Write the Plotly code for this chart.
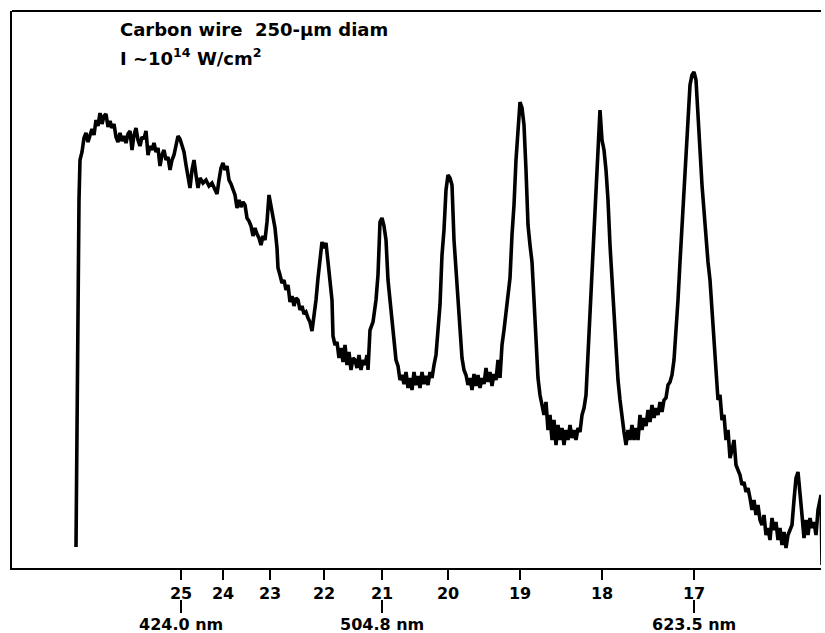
import plotly.graph_objects as go

# Recorded spectrum: scan position along the record vs detector signal (arb. units)
scan_pos = [
    64, 65, 66, 67, 68, 70, 72, 74, 76, 78, 80, 82, 84, 86, 88, 90, 92, 94, 96, 98,
    100, 102, 104, 106, 108, 110, 112, 114, 116, 118, 120, 122, 124, 126, 128, 130, 132, 134, 136, 138,
    140, 142, 144, 146, 148, 150, 152, 154, 156, 158, 160, 162, 164, 166, 168, 170, 172, 174, 176, 178,
    180, 182, 184, 186, 188, 191, 194, 197, 200, 203, 205, 207, 209, 211, 213, 215, 217, 219, 221, 223,
    225, 227, 229, 231, 233, 235, 237, 239, 241, 243, 245, 247, 249, 251, 253, 255, 257, 259, 261, 263,
    265, 266, 268, 270, 272, 274, 276, 278, 280, 282, 284, 286, 288, 290, 292, 294, 296, 298, 300, 302,
    304, 306, 308, 310, 312, 314, 316, 318, 320, 321, 323, 325, 327, 329, 331, 333, 335, 337, 339, 341,
    343, 345, 347, 349, 351, 353, 355, 356, 358, 361, 364, 366, 368, 370, 372, 374, 376, 378, 380, 382,
    384, 386, 388, 390, 392, 394, 396, 398, 400, 402, 404, 406, 408, 410, 412, 414, 416, 418, 420, 422,
    424, 426, 428, 430, 432, 434, 436, 438, 440, 442, 444, 446, 448, 450, 452, 454, 456, 458, 460, 462,
    464, 466, 468, 470, 472, 474, 476, 478, 480, 482, 484, 486, 488, 490, 492, 494, 496, 498, 500, 502,
    504, 506, 508, 510, 512, 514, 516, 518, 520, 522, 524, 526, 528, 530, 532, 534, 536, 538, 540, 542,
    544, 546, 548, 550, 552, 554, 556, 558, 560, 562, 564, 566, 568, 570, 572, 574, 576, 578, 580, 582,
    584, 586, 588, 590, 592, 594, 596, 598, 600, 602, 604, 606, 608, 610, 612, 614, 616, 618, 620, 622,
    624, 626, 628, 630, 632, 634, 636, 638, 640, 642, 644, 646, 648, 650, 652, 654, 656, 658, 660, 662,
    664, 666, 668, 670, 672, 674, 676, 678, 680, 682, 684, 686, 688, 690, 692, 694, 696, 698, 700, 702,
    704, 706, 708, 710, 712, 714, 716, 718, 720, 722, 724, 726, 728, 730, 732, 734, 736, 738, 740, 742,
    744, 746, 748, 750, 752, 754, 756, 758, 760, 762, 764, 766, 768, 770, 772, 774, 776, 778, 780, 782,
    784, 786, 788, 790, 792, 794, 796, 798, 800, 802, 804, 806, 808, 809, 810,
]
signal = [
    21, 148, 268, 368, 408, 416, 430, 435, 426, 432, 439, 433, 448, 442, 455, 444, 452, 454, 441, 447,
    440, 444, 431, 426, 435, 427, 432, 425, 434, 437, 418, 433, 440, 428, 422, 431, 429, 437, 413, 422,
    418, 425, 416, 420, 402, 413, 418, 408, 411, 398, 408, 413, 423, 432, 429, 423, 416, 403, 390, 380,
    398, 408, 393, 380, 390, 385, 388, 382, 385, 378, 374, 388, 400, 405, 398, 402, 388, 384, 378, 373,
    360, 368, 361, 366, 363, 350, 347, 342, 332, 340, 334, 330, 323, 332, 328, 346, 373, 363, 353, 340,
    320, 300, 293, 285, 288, 278, 283, 266, 272, 262, 270, 268, 258, 262, 254, 256, 250, 246, 237, 250,
    268, 290, 310, 326, 320, 325, 306, 290, 268, 232, 223, 226, 210, 220, 206, 223, 203, 216, 198, 210,
    208, 200, 213, 198, 208, 203, 213, 198, 238, 246, 268, 293, 346, 350, 342, 328, 288, 268, 246, 223,
    208, 202, 188, 193, 184, 196, 180, 190, 178, 196, 183, 192, 180, 196, 184, 192, 183, 196, 190, 203,
    213, 238, 263, 313, 338, 378, 393, 390, 383, 328, 298, 268, 238, 210, 198, 193, 183, 190, 178, 194,
    182, 193, 180, 190, 184, 200, 186, 196, 182, 194, 188, 208, 190, 223, 238, 258, 273, 290, 333, 363,
    408, 438, 466, 460, 443, 398, 343, 323, 306, 268, 233, 190, 173, 163, 153, 166, 138, 153, 128, 148,
    123, 143, 128, 140, 123, 138, 128, 143, 130, 138, 128, 140, 136, 153, 160, 173, 216, 248, 298, 338,
    388, 428, 458, 428, 418, 398, 368, 323, 288, 253, 223, 188, 168, 148, 136, 123, 138, 128, 143, 128,
    140, 128, 153, 138, 150, 142, 158, 146, 163, 150, 160, 153, 166, 156, 168, 170, 183, 186, 193, 208,
    233, 268, 306, 343, 383, 418, 458, 483, 493, 496, 488, 458, 418, 383, 353, 328, 306, 288, 258, 223,
    193, 168, 173, 148, 153, 128, 138, 110, 118, 128, 103, 98, 93, 83, 86, 76, 80, 70, 58, 68,
    53, 63, 48, 43, 53, 33, 40, 28, 50, 38, 46, 28, 40, 23, 36, 20, 33, 38, 43, 68,
    90, 96, 78, 53, 30, 48, 33, 50, 40, 46, 33, 58, 68, 73, 3,
]

# Harmonic orders of the 10.6-um drive laser and where they fall on the scan
orders = ["25", "24", "23", "22", "21", "20", "19", "18", "17"]
order_pos = [169, 211, 258, 312, 370, 436, 508, 590, 682]

# Wavelength calibration marks
cal_orders = ["25", "21", "17"]
cal_labels = ["424.0 nm", "504.8 nm", "623.5 nm"]

FONT = "DejaVu Sans"
TXT = dict(family=FONT, size=16, color="black", weight="bold")

fig = go.Figure()
fig.add_trace(go.Scatter(
    x=scan_pos, y=signal, mode="lines",
    line=dict(color="black", width=3.6),
    hoverinfo="skip", showlegend=False,
))

# Frame top edge
shapes = [dict(type="line", xref="paper", yref="paper", x0=0, x1=1, y0=1, y1=1,
               line=dict(color="black", width=2))]
annotations = []
# Calibration connectors and wavelength labels under selected orders
for o, lab in zip(cal_orders, cal_labels):
    xp = order_pos[orders.index(o)]
    shapes.append(dict(type="line", xref="x", yref="paper", x0=xp, x1=xp,
                       y0=-0.0575, y1=-0.081, line=dict(color="black", width=2)))
    annotations.append(dict(x=xp, y=-0.102, xref="x", yref="paper", text=lab,
                            showarrow=False, xanchor="center", yanchor="middle",
                            font=TXT))

annotations.append(dict(x=0.1307, y=0.966, xref="paper", yref="paper",
                        text="Carbon wire  250-μm diam", showarrow=False,
                        xanchor="left", yanchor="middle",
                        font=dict(TXT, size=18)))
annotations.append(dict(x=0.1307, y=0.918, xref="paper", yref="paper",
                        text="I ~10<sup>14</sup> W/cm<sup>2</sup>", showarrow=False,
                        xanchor="left", yanchor="middle",
                        font=dict(TXT, size=18)))

fig.update_layout(
    width=825, height=633,
    margin=dict(l=12, r=4, t=11, b=65),
    paper_bgcolor="white", plot_bgcolor="white",
    shapes=shapes, annotations=annotations,
    xaxis=dict(range=[0, 809], showgrid=False, zeroline=False,
               showline=True, linecolor="black", linewidth=2, mirror=False,
               tickmode="array", tickvals=order_pos, ticktext=orders,
               ticks="outside", ticklen=10, tickwidth=2, tickcolor="black",
               tickfont=TXT),
    yaxis=dict(range=[0, 557], showgrid=False, zeroline=False,
               showline=True, linecolor="black", linewidth=2, mirror=False,
               showticklabels=False, ticks=""),
)

fig.write_html("out.html", config={"displayModeBar": False})
